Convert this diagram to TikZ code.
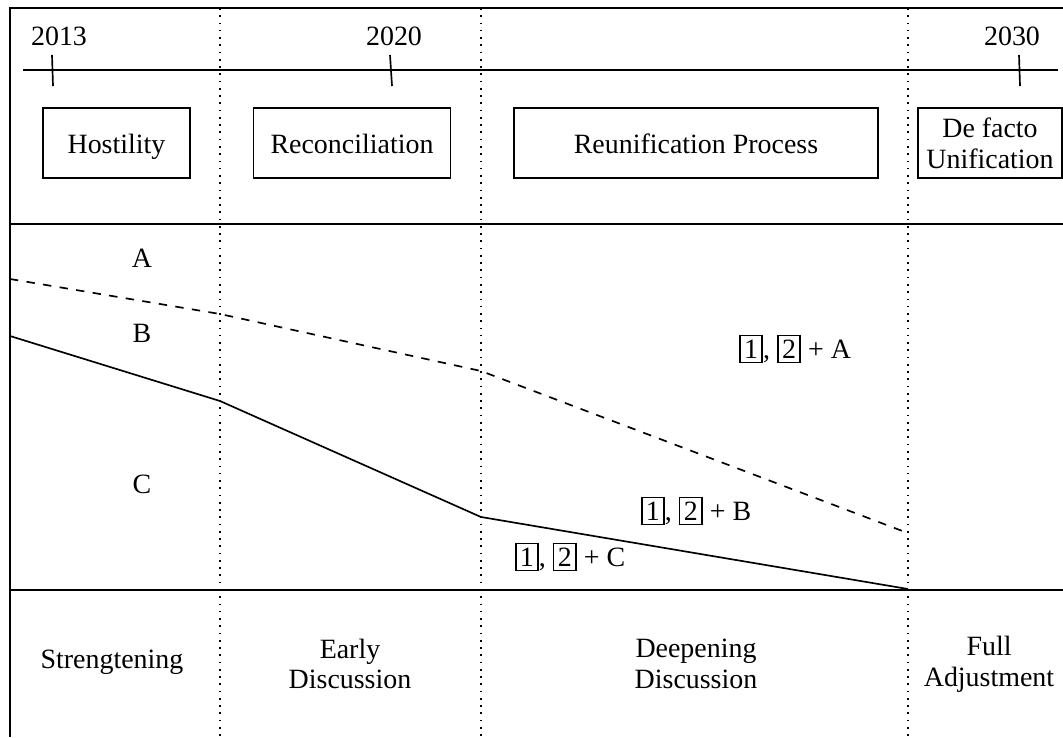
\documentclass[tikz,border=0pt]{standalone}
\usepackage{fontspec}
\setmainfont{Liberation Serif}
\newcommand{\bnum}[1]{{\setlength{\fboxsep}{1.2pt}\setlength{\fboxrule}{0.6pt}\fbox{#1}}}
\begin{document}
\begin{tikzpicture}[x=0.358pt, y=-0.358pt, font=\fontsize{10}{11}\selectfont,
    stage/.style={draw, line width=0.6pt, minimum height=25pt, inner sep=1pt, align=center},
    oneline/.style={text height=1.6ex, text depth=0pt},
    divider/.style={dotted, line width=0.6pt},
    frame/.style={line width=0.8pt},
    txt/.style={align=center, inner sep=1pt}]
    \clip (0,0) rectangle (1063,737);

    % Frame and rows
    \draw[frame] (1063,8) -- (10,8) -- (10,737);
    \draw[frame] (10,224) -- (1063,224);
    \draw[frame] (10,590) -- (1063,590);

    % Vertical dividers between the stages
    \foreach \x in {220,481,908}
        \draw[divider] (\x,8) -- (\x,737);

    % Time line with the years
    \draw[line width=0.6pt] (23,70) -- (1058,70);
    \node[txt] (y1) at (59,36) {2013};
    \node[txt] (y2) at (394,36) {2020};
    \node[txt] (y3) at (1012,36) {2030};
    \draw[line width=0.6pt] (52,55) -- (53,86);
    \draw[line width=0.6pt] (390,55) -- (392,86);
    \draw[line width=0.6pt] (1019,55) -- (1020,86);

    % Stages
    \node[stage, oneline, minimum width=52.6pt] (hos) at (116.5,143) {Hostility};
    \node[stage, oneline, minimum width=70.5pt] (rec) at (352,143) {Reconciliation};
    \node[stage, oneline, minimum width=130.3pt] (reu) at (696,143) {Reunification Process};
    \node[stage, minimum width=51.5pt] (dfu) at (990,143) {De facto\\Unification};

    % Regions A, B and C
    \node[txt] (ra) at (142,258) {A};
    \node[txt] (rb) at (142,333) {B};
    \node[txt] (rc) at (142,484) {C};

    % Boundaries between the regions
    \coordinate (d0) at (10,279);
    \coordinate (d1) at (220,314);
    \coordinate (d2) at (481,371);
    \coordinate (d3) at (905,532);
    \coordinate (s0) at (10,336);
    \coordinate (s1) at (220,401);
    \coordinate (s2) at (481,517);
    \coordinate (s3) at (908,589);
    \draw[dashed, line width=0.6pt] (d0) -- (d1) -- (d2) -- (d3);
    \draw[line width=0.6pt] (s0) -- (s1) -- (s2) -- (s3);

    \node[txt] (ma) at (795,349) {\bnum{1}, \bnum{2} + A};
    \node[txt] (mb) at (696,511) {\bnum{1}, \bnum{2} + B};
    \node[txt] (mc) at (570,557) {\bnum{1}, \bnum{2} + C};

    % Discussion levels
    \node[txt] (lv1) at (112,662) {Strengtening};
    \node[txt] (lv2) at (350,664) {Early\\Discussion};
    \node[txt] (lv3) at (696,664) {Deepening\\Discussion};
    \node[txt] (lv4) at (989,664) {Full\\Adjustment};
\end{tikzpicture}
\end{document}
